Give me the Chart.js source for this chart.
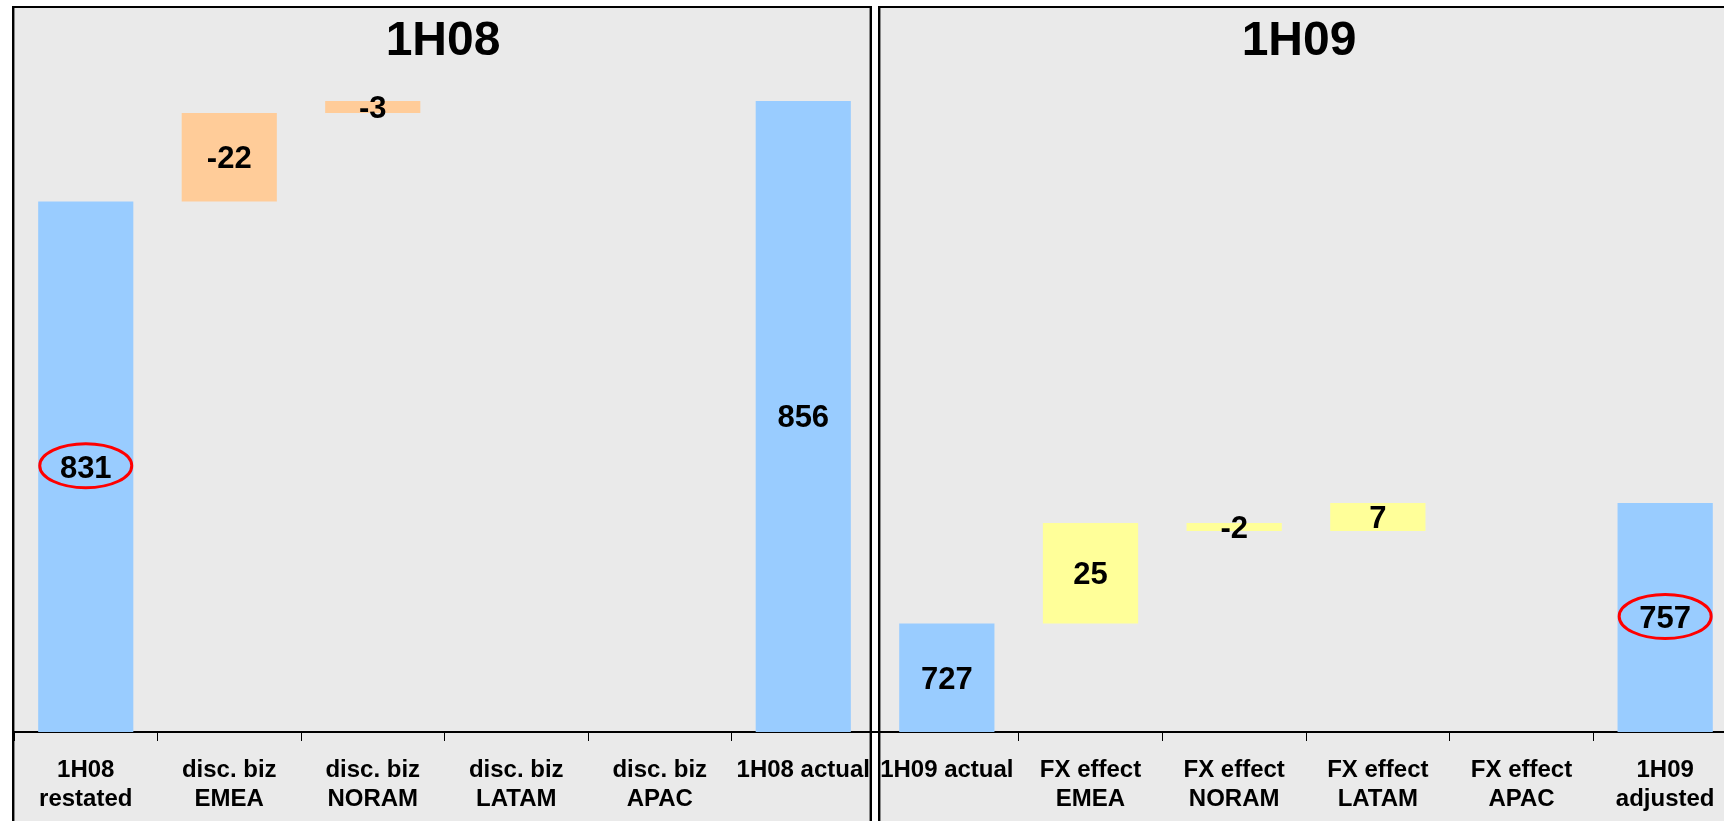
<!DOCTYPE html>
<html>
<head>
<meta charset="utf-8">
<title>1H08 / 1H09</title>
<script src="https://cdn.jsdelivr.net/npm/chart.js@4.4.1/dist/chart.umd.min.js"></script>
<style>
    html, body { margin: 0; padding: 0; background: #fff; width: 1724px; height: 821px; overflow: hidden; }
    .panel { position: absolute; top: 6px; height: 840px; background: #eaeaea; border: 2px solid #000; box-sizing: border-box;
             box-shadow: inset 1px 0 0 #888, inset -1px 0 0 #888; }
    #panel-left { left: 12px; width: 860px; }
    #panel-right { left: 878px; width: 900px; }
    canvas { position: absolute; top: 0; }
    #chart1H08 { left: 14px; }
    #chart1H09 { left: 875px; }
</style>
</head>
<body>
<div class="panel" id="panel-left"></div>
<div class="panel" id="panel-right"></div>
<canvas id="chart1H08" width="861" height="821"></canvas>
<canvas id="chart1H09" width="862" height="821"></canvas>
<script>
// 1H08: restated -> discontinued business -> actual
var labels1H08 = [['1H08', 'restated'], ['disc. biz', 'EMEA'], ['disc. biz', 'NORAM'], ['disc. biz', 'LATAM'], ['disc. biz', 'APAC'], '1H08 actual'];
var restated1H08 = 831;
var discBiz = [-22, -3, 0, 0];
var actual1H08 = 856;

// 1H09: actual -> FX effect -> adjusted
var labels1H09 = ['1H09 actual', ['FX effect', 'EMEA'], ['FX effect', 'NORAM'], ['FX effect', 'LATAM'], ['FX effect', 'APAC'], ['1H09', 'adjusted']];
var actual1H09 = 727;
var fxEffect = [25, -2, 7, 0];
var adjusted1H09 = 757;

var BLUE = '#99ccff';
var ORANGE = '#ffcc99';
var YELLOW = '#ffff99';
var FONT = '"Liberation Sans", Arial, Helvetica, sans-serif';

Chart.defaults.font.family = FONT;

// value labels in the middle of each bar, some of them circled
var barValues = {
    id: 'barValues',
    afterDatasetsDraw: function (chart, args, opts) {
        var ctx = chart.ctx;
        var meta = chart.getDatasetMeta(0);
        var bottom = chart.chartArea.bottom;
        ctx.save();
        ctx.font = 'bold 31px ' + FONT;
        ctx.fillStyle = '#000';
        ctx.textAlign = 'center';
        ctx.textBaseline = 'alphabetic';
        meta.data.forEach(function (bar, i) {
            var v = opts.values[i];
            if (!v) return;
            // total bars start at zero, far below the visible axis
            var base = Math.min(bar.base, bottom);
            var mid = (bar.y + base) / 2;
            ctx.fillText(String(v), bar.x, mid + 11);
            if (opts.circled.indexOf(i) >= 0) {
                ctx.beginPath();
                ctx.ellipse(bar.x, mid - 1, 46, 22, 0, 0, Math.PI * 2);
                ctx.strokeStyle = '#ff0000';
                ctx.lineWidth = 3;
                ctx.stroke();
            }
        });
        ctx.restore();
    }
};

var panelTitle = {
    id: 'panelTitle',
    afterDraw: function (chart, args, opts) {
        var ctx = chart.ctx;
        ctx.save();
        ctx.font = 'bold 48px ' + FONT;
        ctx.fillStyle = '#000';
        ctx.textAlign = 'center';
        ctx.textBaseline = 'alphabetic';
        ctx.fillText(opts.text, opts.x, 55);
        ctx.restore();
    }
};

// steps go backwards from the restated figure up to the actual one
function bridgeDown(start, steps, end) {
    var data = [start];
    var level = start;
    steps.forEach(function (s) {
        data.push([level, level - s]);
        level = level - s;
    });
    data.push(end);
    return data;
}

// steps add on top of the actual figure
function bridgeUp(start, steps, end) {
    var data = [start];
    var level = start;
    steps.forEach(function (s) {
        data.push([level, level + s]);
        level = level + s;
    });
    data.push(end);
    return data;
}

function drawChart(id, labels, data, values, colors, circled, title, titleX, yMin, yMax) {
    var ctx = document.getElementById(id).getContext('2d');
    return new Chart(ctx, {
        type: 'bar',
        data: {
            labels: labels,
            datasets: [{
                data: data,
                backgroundColor: colors,
                borderWidth: 0,
                categoryPercentage: 1,
                barPercentage: 0.663
            }]
        },
        options: {
            responsive: false,
            animation: false,
            layout: { padding: { top: 72, left: 0, right: 0, bottom: 0 }, autoPadding: false },
            plugins: {
                legend: { display: false },
                tooltip: { enabled: false },
                barValues: { values: values, circled: circled },
                panelTitle: { text: title, x: titleX }
            },
            scales: {
                x: {
                    grid: { offset: true, drawOnChartArea: false, tickLength: 9, color: '#000', lineWidth: 1 },
                    border: { color: '#000', width: 2 },
                    ticks: {
                        color: '#000',
                        font: { size: 24, weight: 'bold', lineHeight: 1.2 },
                        padding: 15,
                        maxRotation: 0,
                        autoSkip: false
                    },
                    afterFit: function (scale) {
                        // fixed axis band, categories use the full width
                        scale.height = 89;
                        scale.paddingLeft = 0;
                        scale.paddingRight = 0;
                    }
                },
                y: { display: false, min: yMin, max: yMax }
            }
        },
        plugins: [barValues, panelTitle]
    });
}

drawChart('chart1H08', labels1H08,
    bridgeDown(restated1H08, discBiz, actual1H08),
    [restated1H08].concat(discBiz, [actual1H08]),
    [BLUE, ORANGE, ORANGE, ORANGE, ORANGE, BLUE],
    [0], '1H08', 429, 699, 863.2);

drawChart('chart1H09', labels1H09,
    bridgeUp(actual1H09, fxEffect, adjusted1H09),
    [actual1H09].concat(fxEffect, [adjusted1H09]),
    [BLUE, YELLOW, YELLOW, YELLOW, YELLOW, BLUE],
    [5], '1H09', 424, 700, 864.2);
</script>
</body>
</html>
